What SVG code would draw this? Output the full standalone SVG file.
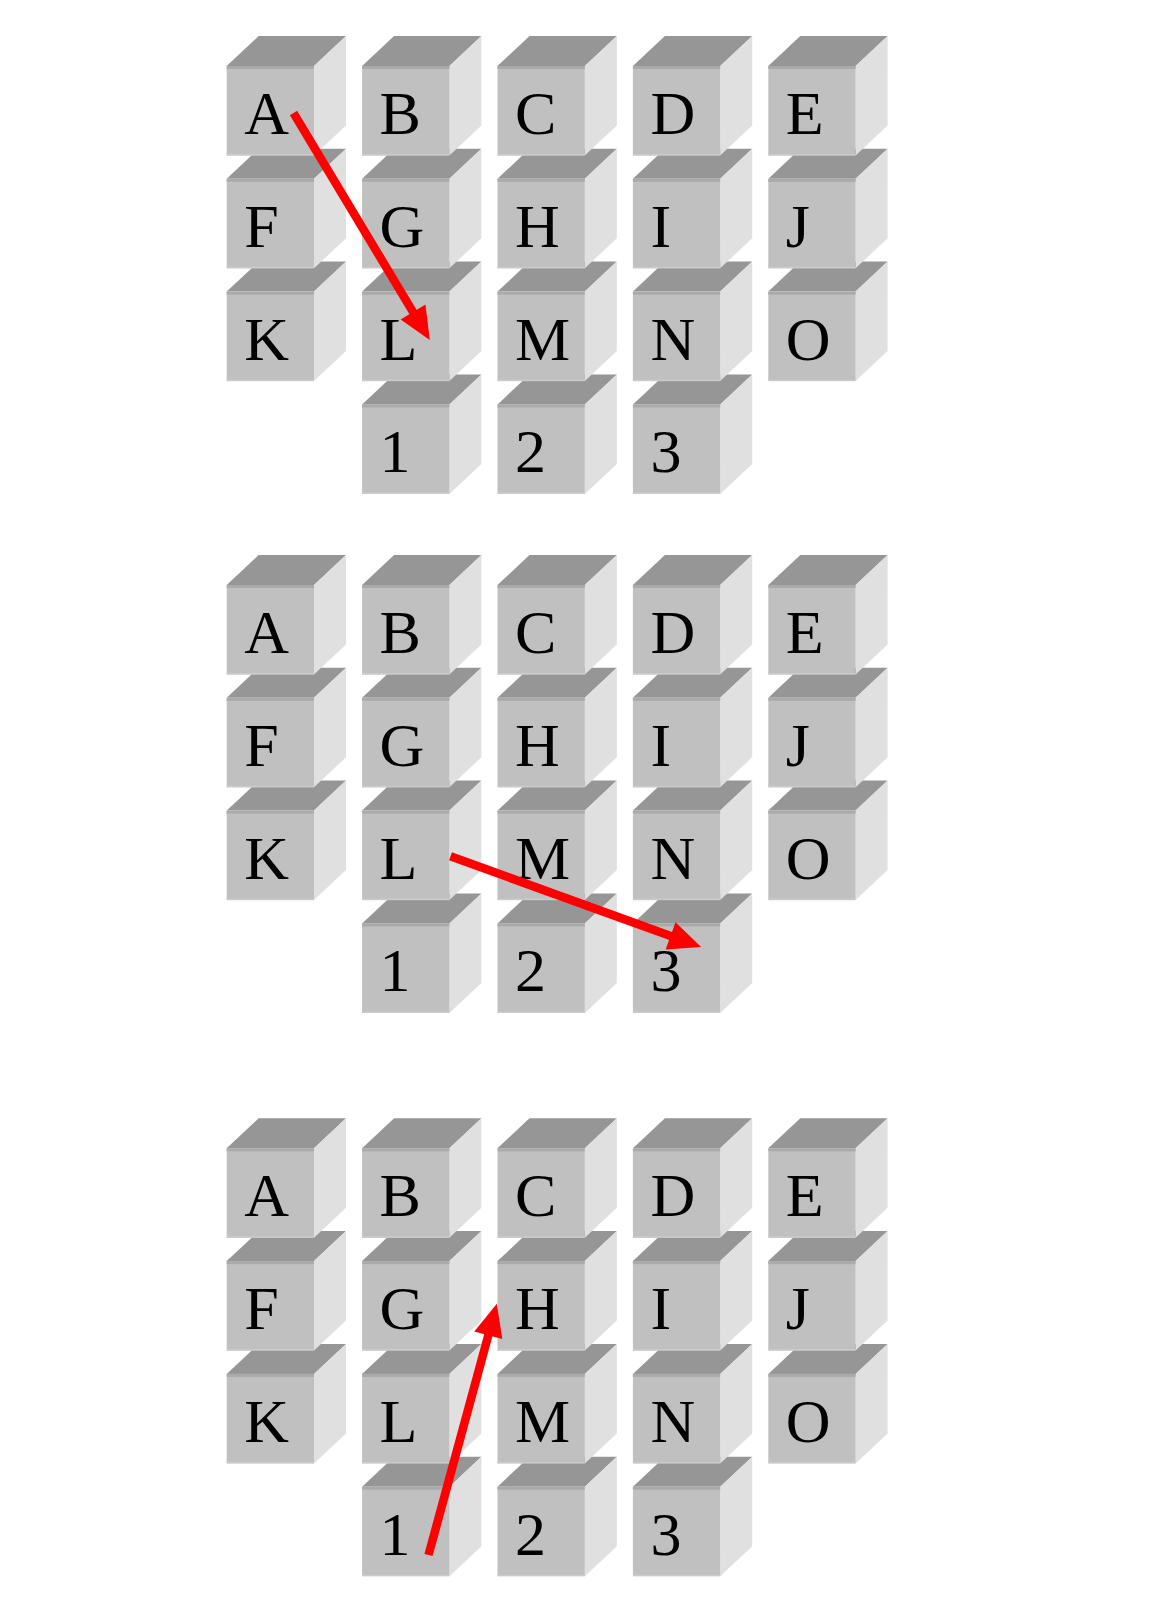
<svg xmlns="http://www.w3.org/2000/svg" xmlns:xlink="http://www.w3.org/1999/xlink" width="1174" height="1600" viewBox="0 0 1174 1600">
<style>
.top{fill:#969696}
.front{fill:#c0c0c0}
.side{fill:#e0e0e0}
.band{fill:#aaaaaa}
.edge{fill:#cbcbcb}
.lbl{font-family:"Liberation Serif","Times New Roman",serif;font-size:62px;fill:#000}
.arr{fill:none;stroke:#ff0000;stroke-width:8.5;stroke-linecap:butt}
</style>
<defs>
<g id="cube">
<polygon class="top" points="0,0 32,-30 119.3,-30 87.3,0"/>
<polygon class="side" points="87.3,0 119.3,-30 119.3,59.5 87.3,89.5"/>
<rect class="front" x="0" y="0" width="87.3" height="89.5"/>
<rect class="band" x="0" y="0" width="87.3" height="3"/>
<rect class="edge" x="0" y="88" width="87.3" height="1.5"/>
</g>
<marker id="head" viewBox="0 -15 33 30" refX="3" refY="0" markerWidth="33" markerHeight="30" markerUnits="userSpaceOnUse" orient="auto" overflow="visible">
<path d="M0,-14.5 L32.5,0 L0,14.5 Z" fill="#ff0000"/>
</marker>
</defs>

<!-- Section 1 -->
<g id="section1">
<g id="s1-1"><use href="#cube" x="362.1" y="404.4"/><text class="lbl" x="379.6" y="472.4">1</text></g>
<g id="s1-2"><use href="#cube" x="497.5" y="404.4"/><text class="lbl" x="515" y="472.4">2</text></g>
<g id="s1-3"><use href="#cube" x="632.9" y="404.4"/><text class="lbl" x="650.4" y="472.4">3</text></g>
<g id="s1-K"><use href="#cube" x="226.7" y="291.6"/><text class="lbl" x="244.2" y="359.6">K</text></g>
<g id="s1-L"><use href="#cube" x="362.1" y="291.6"/><text class="lbl" x="379.6" y="359.6">L</text></g>
<g id="s1-M"><use href="#cube" x="497.5" y="291.6"/><text class="lbl" x="515" y="359.6">M</text></g>
<g id="s1-N"><use href="#cube" x="632.9" y="291.6"/><text class="lbl" x="650.4" y="359.6">N</text></g>
<g id="s1-O"><use href="#cube" x="768.3" y="291.6"/><text class="lbl" x="785.8" y="359.6">O</text></g>
<g id="s1-F"><use href="#cube" x="226.7" y="178.8"/><text class="lbl" x="244.2" y="246.8">F</text></g>
<g id="s1-G"><use href="#cube" x="362.1" y="178.8"/><text class="lbl" x="379.6" y="246.8">G</text></g>
<g id="s1-H"><use href="#cube" x="497.5" y="178.8"/><text class="lbl" x="515" y="246.8">H</text></g>
<g id="s1-I"><use href="#cube" x="632.9" y="178.8"/><text class="lbl" x="650.4" y="246.8">I</text></g>
<g id="s1-J"><use href="#cube" x="768.3" y="178.8"/><text class="lbl" x="785.8" y="246.8">J</text></g>
<g id="s1-A"><use href="#cube" x="226.7" y="66"/><text class="lbl" x="244.2" y="134">A</text></g>
<g id="s1-B"><use href="#cube" x="362.1" y="66"/><text class="lbl" x="379.6" y="134">B</text></g>
<g id="s1-C"><use href="#cube" x="497.5" y="66"/><text class="lbl" x="515" y="134">C</text></g>
<g id="s1-D"><use href="#cube" x="632.9" y="66"/><text class="lbl" x="650.4" y="134">D</text></g>
<g id="s1-E"><use href="#cube" x="768.3" y="66"/><text class="lbl" x="785.8" y="134">E</text></g>
</g>

<!-- Section 2 -->
<g id="section2">
<g id="s2-1"><use href="#cube" x="362.1" y="923.4"/><text class="lbl" x="379.6" y="991.4">1</text></g>
<g id="s2-2"><use href="#cube" x="497.5" y="923.4"/><text class="lbl" x="515" y="991.4">2</text></g>
<g id="s2-3"><use href="#cube" x="632.9" y="923.4"/><text class="lbl" x="650.4" y="991.4">3</text></g>
<g id="s2-K"><use href="#cube" x="226.7" y="810.6"/><text class="lbl" x="244.2" y="878.6">K</text></g>
<g id="s2-L"><use href="#cube" x="362.1" y="810.6"/><text class="lbl" x="379.6" y="878.6">L</text></g>
<g id="s2-M"><use href="#cube" x="497.5" y="810.6"/><text class="lbl" x="515" y="878.6">M</text></g>
<g id="s2-N"><use href="#cube" x="632.9" y="810.6"/><text class="lbl" x="650.4" y="878.6">N</text></g>
<g id="s2-O"><use href="#cube" x="768.3" y="810.6"/><text class="lbl" x="785.8" y="878.6">O</text></g>
<g id="s2-F"><use href="#cube" x="226.7" y="697.8"/><text class="lbl" x="244.2" y="765.8">F</text></g>
<g id="s2-G"><use href="#cube" x="362.1" y="697.8"/><text class="lbl" x="379.6" y="765.8">G</text></g>
<g id="s2-H"><use href="#cube" x="497.5" y="697.8"/><text class="lbl" x="515" y="765.8">H</text></g>
<g id="s2-I"><use href="#cube" x="632.9" y="697.8"/><text class="lbl" x="650.4" y="765.8">I</text></g>
<g id="s2-J"><use href="#cube" x="768.3" y="697.8"/><text class="lbl" x="785.8" y="765.8">J</text></g>
<g id="s2-A"><use href="#cube" x="226.7" y="585"/><text class="lbl" x="244.2" y="653">A</text></g>
<g id="s2-B"><use href="#cube" x="362.1" y="585"/><text class="lbl" x="379.6" y="653">B</text></g>
<g id="s2-C"><use href="#cube" x="497.5" y="585"/><text class="lbl" x="515" y="653">C</text></g>
<g id="s2-D"><use href="#cube" x="632.9" y="585"/><text class="lbl" x="650.4" y="653">D</text></g>
<g id="s2-E"><use href="#cube" x="768.3" y="585"/><text class="lbl" x="785.8" y="653">E</text></g>
</g>

<!-- Section 3 -->
<g id="section3">
<g id="s3-1"><use href="#cube" x="362.1" y="1486.7"/><text class="lbl" x="379.6" y="1554.7">1</text></g>
<g id="s3-2"><use href="#cube" x="497.5" y="1486.7"/><text class="lbl" x="515" y="1554.7">2</text></g>
<g id="s3-3"><use href="#cube" x="632.9" y="1486.7"/><text class="lbl" x="650.4" y="1554.7">3</text></g>
<g id="s3-K"><use href="#cube" x="226.7" y="1373.9"/><text class="lbl" x="244.2" y="1441.9">K</text></g>
<g id="s3-L"><use href="#cube" x="362.1" y="1373.9"/><text class="lbl" x="379.6" y="1441.9">L</text></g>
<g id="s3-M"><use href="#cube" x="497.5" y="1373.9"/><text class="lbl" x="515" y="1441.9">M</text></g>
<g id="s3-N"><use href="#cube" x="632.9" y="1373.9"/><text class="lbl" x="650.4" y="1441.9">N</text></g>
<g id="s3-O"><use href="#cube" x="768.3" y="1373.9"/><text class="lbl" x="785.8" y="1441.9">O</text></g>
<g id="s3-F"><use href="#cube" x="226.7" y="1261.1"/><text class="lbl" x="244.2" y="1329.1">F</text></g>
<g id="s3-G"><use href="#cube" x="362.1" y="1261.1"/><text class="lbl" x="379.6" y="1329.1">G</text></g>
<g id="s3-H"><use href="#cube" x="497.5" y="1261.1"/><text class="lbl" x="515" y="1329.1">H</text></g>
<g id="s3-I"><use href="#cube" x="632.9" y="1261.1"/><text class="lbl" x="650.4" y="1329.1">I</text></g>
<g id="s3-J"><use href="#cube" x="768.3" y="1261.1"/><text class="lbl" x="785.8" y="1329.1">J</text></g>
<g id="s3-A"><use href="#cube" x="226.7" y="1148.3"/><text class="lbl" x="244.2" y="1216.3">A</text></g>
<g id="s3-B"><use href="#cube" x="362.1" y="1148.3"/><text class="lbl" x="379.6" y="1216.3">B</text></g>
<g id="s3-C"><use href="#cube" x="497.5" y="1148.3"/><text class="lbl" x="515" y="1216.3">C</text></g>
<g id="s3-D"><use href="#cube" x="632.9" y="1148.3"/><text class="lbl" x="650.4" y="1216.3">D</text></g>
<g id="s3-E"><use href="#cube" x="768.3" y="1148.3"/><text class="lbl" x="785.8" y="1216.3">E</text></g>
</g>

<!-- Connectors -->
<g id="connectors">
<line class="arr" x1="293.5" y1="113" x2="414.6" y2="314.6" marker-end="url(#head)"/>
<line class="arr" x1="450.5" y1="856.3" x2="673.4" y2="937" marker-end="url(#head)"/>
<line class="arr" x1="428.5" y1="1555" x2="489.1" y2="1332.3" marker-end="url(#head)"/>
</g>
</svg>
